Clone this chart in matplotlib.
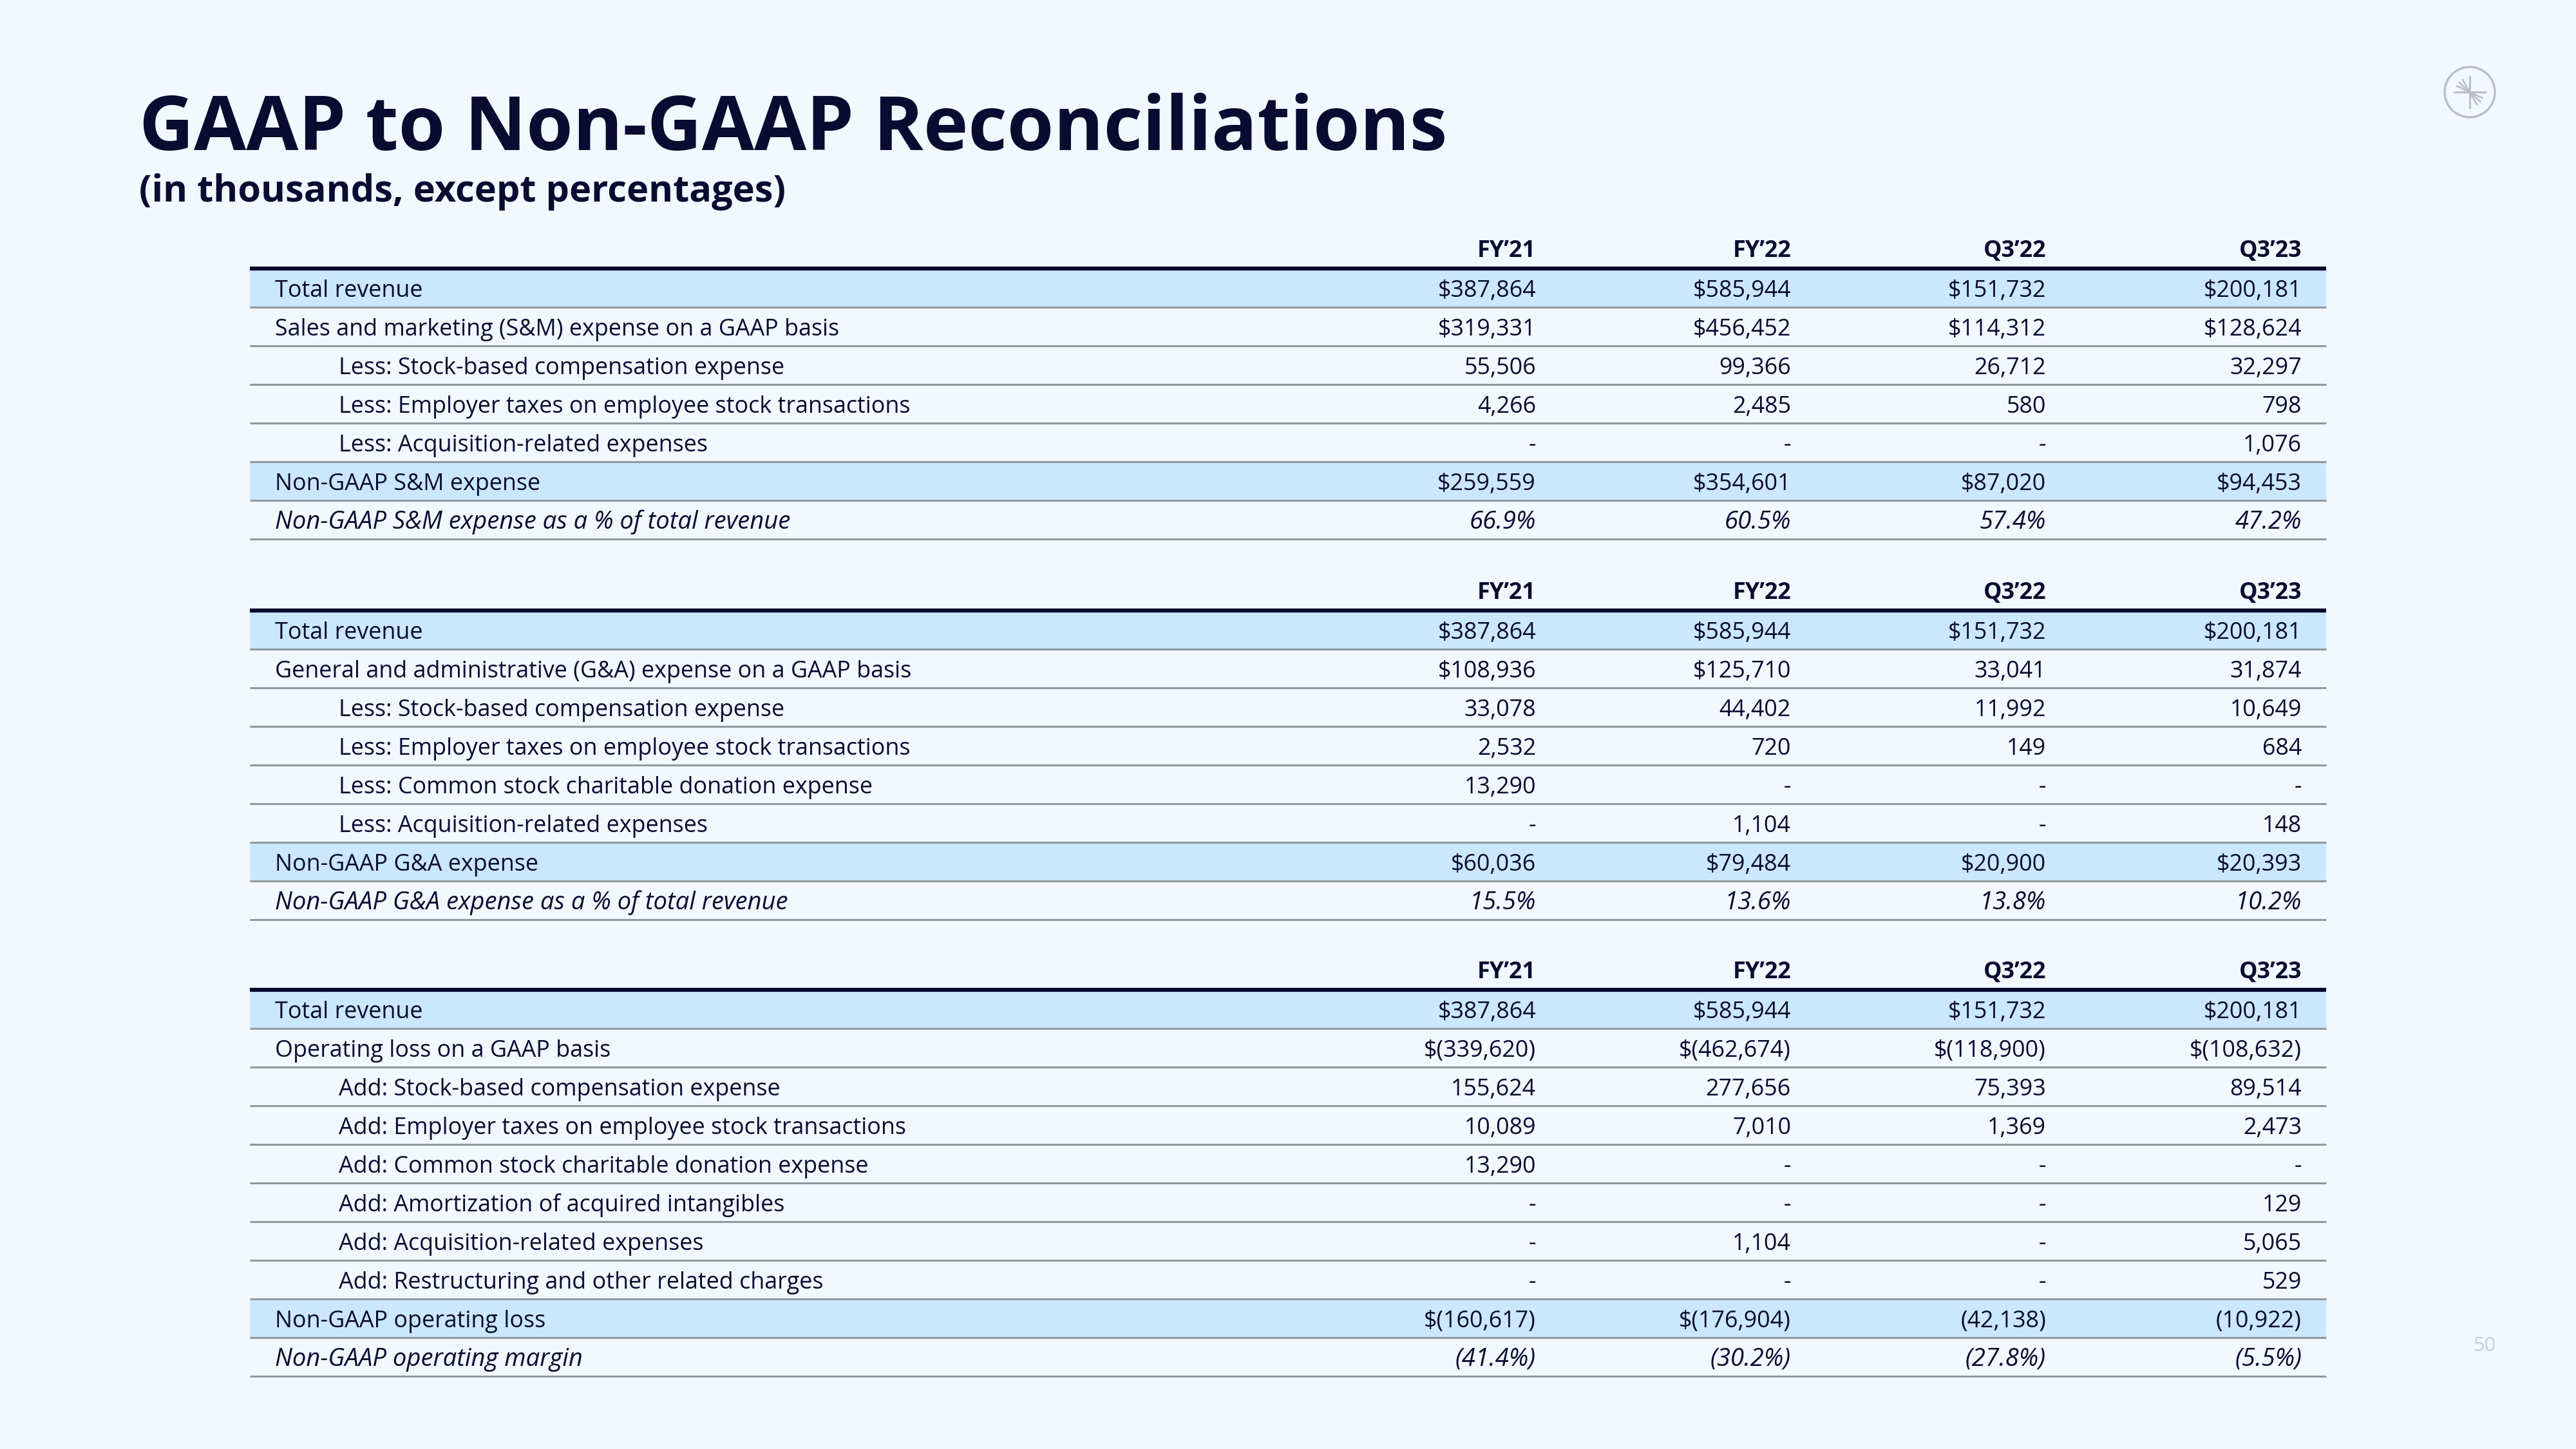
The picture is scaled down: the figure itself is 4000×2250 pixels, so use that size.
import matplotlib
matplotlib.use('Agg')
import matplotlib.pyplot as plt
from matplotlib.patches import Rectangle, Circle
import numpy as np

# ---- data -------------------------------------------------------------
periods = ["FY’21", "FY’22", "Q3’22", "Q3’23"]

revenue = ["$387,864", "$585,944", "$151,732", "$200,181"]

sm_labels = [
    "Total revenue",
    "Sales and marketing (S&M) expense on a GAAP basis",
    "Less: Stock-based compensation expense",
    "Less: Employer taxes on employee stock transactions",
    "Less: Acquisition-related expenses",
    "Non-GAAP S&M expense",
    "Non-GAAP S&M expense as a % of total revenue",
]
sm_values = [
    revenue,
    ["$319,331", "$456,452", "$114,312", "$128,624"],
    ["55,506", "99,366", "26,712", "32,297"],
    ["4,266", "2,485", "580", "798"],
    ["-", "-", "-", "1,076"],
    ["$259,559", "$354,601", "$87,020", "$94,453"],
    ["66.9%", "60.5%", "57.4%", "47.2%"],
]
sm_kind = ["total", "gaap", "adj", "adj", "adj", "nongaap", "pct"]

ga_labels = [
    "Total revenue",
    "General and administrative (G&A) expense on a GAAP basis",
    "Less: Stock-based compensation expense",
    "Less: Employer taxes on employee stock transactions",
    "Less: Common stock charitable donation expense",
    "Less: Acquisition-related expenses",
    "Non-GAAP G&A expense",
    "Non-GAAP G&A expense as a % of total revenue",
]
ga_values = [
    revenue,
    ["$108,936", "$125,710", "33,041", "31,874"],
    ["33,078", "44,402", "11,992", "10,649"],
    ["2,532", "720", "149", "684"],
    ["13,290", "-", "-", "-"],
    ["-", "1,104", "-", "148"],
    ["$60,036", "$79,484", "$20,900", "$20,393"],
    ["15.5%", "13.6%", "13.8%", "10.2%"],
]
ga_kind = ["total", "gaap", "adj", "adj", "adj", "adj", "nongaap", "pct"]

op_labels = [
    "Total revenue",
    "Operating loss on a GAAP basis",
    "Add: Stock-based compensation expense",
    "Add: Employer taxes on employee stock transactions",
    "Add: Common stock charitable donation expense",
    "Add: Amortization of acquired intangibles",
    "Add: Acquisition-related expenses",
    "Add: Restructuring and other related charges",
    "Non-GAAP operating loss",
    "Non-GAAP operating margin",
]
op_values = [
    revenue,
    ["$(339,620)", "$(462,674)", "$(118,900)", "$(108,632)"],
    ["155,624", "277,656", "75,393", "89,514"],
    ["10,089", "7,010", "1,369", "2,473"],
    ["13,290", "-", "-", "-"],
    ["-", "-", "-", "129"],
    ["-", "1,104", "-", "5,065"],
    ["-", "-", "-", "529"],
    ["$(160,617)", "$(176,904)", "(42,138)", "(10,922)"],
    ["(41.4%)", "(30.2%)", "(27.8%)", "(5.5%)"],
]
op_kind = ["total", "gaap", "adj", "adj", "adj", "adj", "adj", "adj", "nongaap", "pct"]

# ---- layout / style ---------------------------------------------------
W, H = 4000, 2250
BG = "#f3f7fe"
NAVY = "#0a0b30"
HILITE = "#cbe7fc"
RULE = "#8f999f"
FONT = ["Open Sans", "DejaVu Sans"]

TABLE_L, TABLE_R = 388, 3612
COL_R = [2385, 2781, 3177, 3574]
LABEL_X, INDENT_X = 427, 526
ROW_H = 60
SECTION_TOPS = [417, 948, 1537]

fig = plt.figure(figsize=(W / 100, H / 100), dpi=100, facecolor=BG)
ax = fig.add_axes([0, 0, 1, 1])
ax.set_xlim(0, W)
ax.set_ylim(H, 0)
ax.axis('off')
ax.set_facecolor(BG)
plt.rcParams['font.family'] = FONT
renderer = fig.canvas.get_renderer()


def fit_size(s, target_w, **kw):
    t = ax.text(0, 0, s, fontsize=20, **kw)
    w = t.get_window_extent(renderer).width
    t.remove()
    return 20 * target_w / w


title_fs = fit_size("GAAP to Non-GAAP Reconciliations", 2031, fontweight='bold')
sub_fs = fit_size("(in thousands, except percentages)", 1004, fontweight='bold')
body_fs = fit_size("Sales and marketing (S&M) expense on a GAAP basis", 875)
ital_fs = fit_size("Non-GAAP S&M expense as a % of total revenue", 801, fontstyle='italic')

ax.text(216, 233, "GAAP to Non-GAAP Reconciliations", fontsize=title_fs,
        fontweight='bold', color=NAVY, va='baseline', ha='left')
ax.text(216, 313, "(in thousands, except percentages)", fontsize=sub_fs,
        fontweight='bold', color=NAVY, va='baseline', ha='left')

sections = [
    (sm_labels, sm_values, sm_kind),
    (ga_labels, ga_values, ga_kind),
    (op_labels, op_values, op_kind),
]

for top, (labels, values, kinds) in zip(SECTION_TOPS, sections):
    # column headers
    for xr, p in zip(COL_R, periods):
        ax.text(xr, top - 18, p, fontsize=body_fs, fontweight='bold',
                color=NAVY, ha='right', va='baseline')
    for i, (lab, vals, kind) in enumerate(zip(labels, values, kinds)):
        y0 = top + i * ROW_H
        y1 = y0 + ROW_H
        if kind in ("total", "nongaap"):
            ax.add_patch(Rectangle((TABLE_L, y0), TABLE_R - TABLE_L, ROW_H,
                                   facecolor=HILITE, edgecolor='none', zorder=1))
        ax.plot([TABLE_L, TABLE_R], [y1, y1], color=RULE, lw=2.2,
                solid_capstyle='butt', zorder=2)
        if kind == "pct":
            style, fs = 'italic', ital_fs
        else:
            style, fs = 'normal', body_fs
        x = INDENT_X if kind == "adj" else LABEL_X
        ax.text(x, y1 - 16, lab, fontsize=fs, fontstyle=style,
                color=NAVY, ha='left', va='baseline', zorder=3)
        for xr, v in zip(COL_R, vals):
            ax.text(xr, y1 - 16, v, fontsize=fs, fontstyle=style,
                    color=NAVY, ha='right', va='baseline', zorder=3)
    ax.plot([TABLE_L, TABLE_R], [top, top], color="#05062e", lw=4.5,
            solid_capstyle='butt', zorder=4)

# logo mark, top right
LOGO = "#b9bccb"
cx, cy, r = 3835, 143, 39
ax.add_patch(Circle((cx, cy), r, facecolor='none', edgecolor=LOGO, lw=2.4))
ax.plot([cx, cx], [cy - 24, cy + 24], color=LOGO, lw=2.2)
ax.plot([cx - 24, cx + 24], [cy, cy], color=LOGO, lw=2.2)
for ang in np.radians([155, 138, 120]):
    ax.plot([cx, cx + 22 * np.cos(ang)], [cy, cy - 22 * np.sin(ang)], color=LOGO, lw=1.8)
    ax.plot([cx, cx - 22 * np.cos(ang)], [cy, cy + 22 * np.sin(ang)], color=LOGO, lw=1.8)

# page number
ax.text(3858, 2098, "50", fontsize=body_fs * 0.85, color="#c8ccd9",
        ha='center', va='baseline')

fig.savefig("out.png", dpi=100, facecolor=BG)
